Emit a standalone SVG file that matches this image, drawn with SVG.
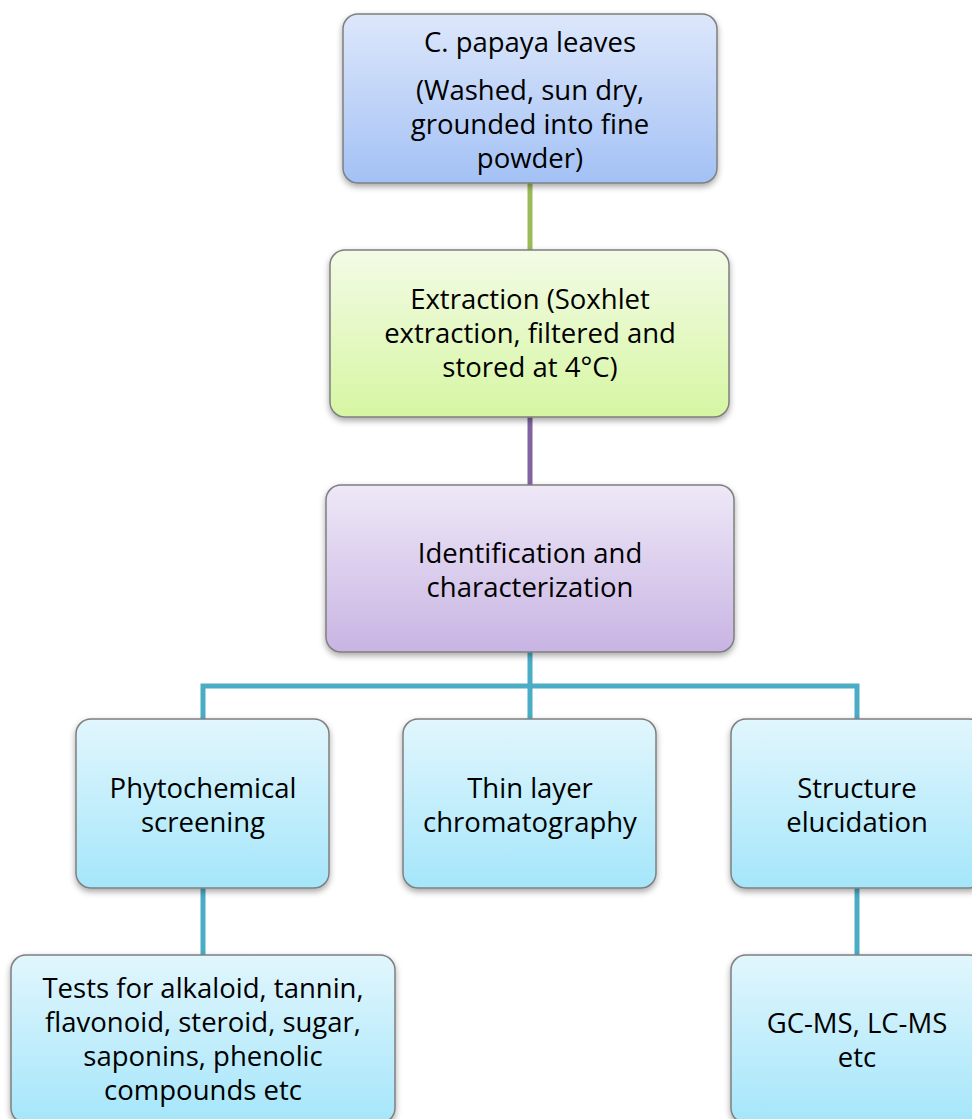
<svg xmlns="http://www.w3.org/2000/svg" width="972" height="1119" viewBox="0 0 972 1119">
  <defs>
    <linearGradient id="gBlue" x1="0" y1="0" x2="0" y2="1">
      <stop offset="0" stop-color="#DDE7FB"/>
      <stop offset="1" stop-color="#A3C1F5"/>
    </linearGradient>
    <linearGradient id="gGreen" x1="0" y1="0" x2="0" y2="1">
      <stop offset="0" stop-color="#F3FBE6"/>
      <stop offset="1" stop-color="#D6F6A2"/>
    </linearGradient>
    <linearGradient id="gPurple" x1="0" y1="0" x2="0" y2="1">
      <stop offset="0" stop-color="#EEE8F7"/>
      <stop offset="1" stop-color="#C8B4E3"/>
    </linearGradient>
    <linearGradient id="gAqua" x1="0" y1="0" x2="0" y2="1">
      <stop offset="0" stop-color="#E1F6FD"/>
      <stop offset="1" stop-color="#A5E6FA"/>
    </linearGradient>
    <filter id="shadow" x="-10%" y="-10%" width="120%" height="130%">
      <feDropShadow dx="0" dy="3" stdDeviation="3" flood-color="#000" flood-opacity="0.35"/>
    </filter>
  </defs>
  <style>
    .box { stroke: #7F7F7F; stroke-width: 1.5; filter: url(#shadow); }
    .lbl { font-family: "Open Sans", "Liberation Sans", sans-serif; font-size: 27.5px; fill: #000; text-anchor: middle; }
    .conn { fill: none; stroke-width: 5; }
  </style>
  <rect width="972" height="1119" fill="#FFFFFF"/>

  <g id="connectors">
    <line class="conn" x1="530" y1="183" x2="530" y2="250" stroke="#9BBB59"/>
    <line class="conn" x1="530" y1="417" x2="530" y2="485" stroke="#8064A2"/>
    <path class="conn" d="M530,652 V719 M203,719 V686 H857 V719" stroke="#4BACC6"/>
    <line class="conn" x1="203" y1="888" x2="203" y2="955" stroke="#4BACC6"/>
    <line class="conn" x1="857" y1="888" x2="857" y2="955" stroke="#4BACC6"/>
  </g>

  <g id="leaves">
    <rect class="box" x="343" y="14" width="374" height="169" rx="15" fill="url(#gBlue)"/>
    <text class="lbl" x="530" y="52">C. papaya leaves</text>
    <text class="lbl" x="530" y="100">(Washed, sun dry,</text>
    <text class="lbl" x="530" y="134">grounded into fine</text>
    <text class="lbl" x="530" y="168">powder)</text>
  </g>

  <g id="extraction">
    <rect class="box" x="330" y="250" width="399" height="167" rx="15" fill="url(#gGreen)"/>
    <text class="lbl" x="530" y="309">Extraction (Soxhlet</text>
    <text class="lbl" x="530" y="343">extraction, filtered and</text>
    <text class="lbl" x="530" y="377">stored at 4°C)</text>
  </g>

  <g id="identification">
    <rect class="box" x="326" y="485" width="408" height="167" rx="15" fill="url(#gPurple)"/>
    <text class="lbl" x="530" y="563">Identification and</text>
    <text class="lbl" x="530" y="597">characterization</text>
  </g>

  <g id="phytochemical">
    <rect class="box" x="76" y="719" width="253" height="169" rx="15" fill="url(#gAqua)"/>
    <text class="lbl" x="203" y="798">Phytochemical</text>
    <text class="lbl" x="203" y="832">screening</text>
  </g>

  <g id="tlc">
    <rect class="box" x="403" y="719" width="253" height="169" rx="15" fill="url(#gAqua)"/>
    <text class="lbl" x="530" y="798">Thin layer</text>
    <text class="lbl" x="530" y="832">chromatography</text>
  </g>

  <g id="structure">
    <rect class="box" x="731" y="719" width="253" height="169" rx="15" fill="url(#gAqua)"/>
    <text class="lbl" x="857" y="798">Structure</text>
    <text class="lbl" x="857" y="832">elucidation</text>
  </g>

  <g id="tests">
    <rect class="box" x="11" y="955" width="384" height="168" rx="15" fill="url(#gAqua)"/>
    <text class="lbl" x="203" y="998">Tests for alkaloid, tannin,</text>
    <text class="lbl" x="203" y="1032">flavonoid, steroid, sugar,</text>
    <text class="lbl" x="203" y="1066">saponins, phenolic</text>
    <text class="lbl" x="203" y="1100">compounds etc</text>
  </g>

  <g id="msmethods">
    <rect class="box" x="731" y="955" width="253" height="168" rx="15" fill="url(#gAqua)"/>
    <text class="lbl" x="857" y="1033">GC-MS, LC-MS</text>
    <text class="lbl" x="857" y="1067">etc</text>
  </g>
</svg>
